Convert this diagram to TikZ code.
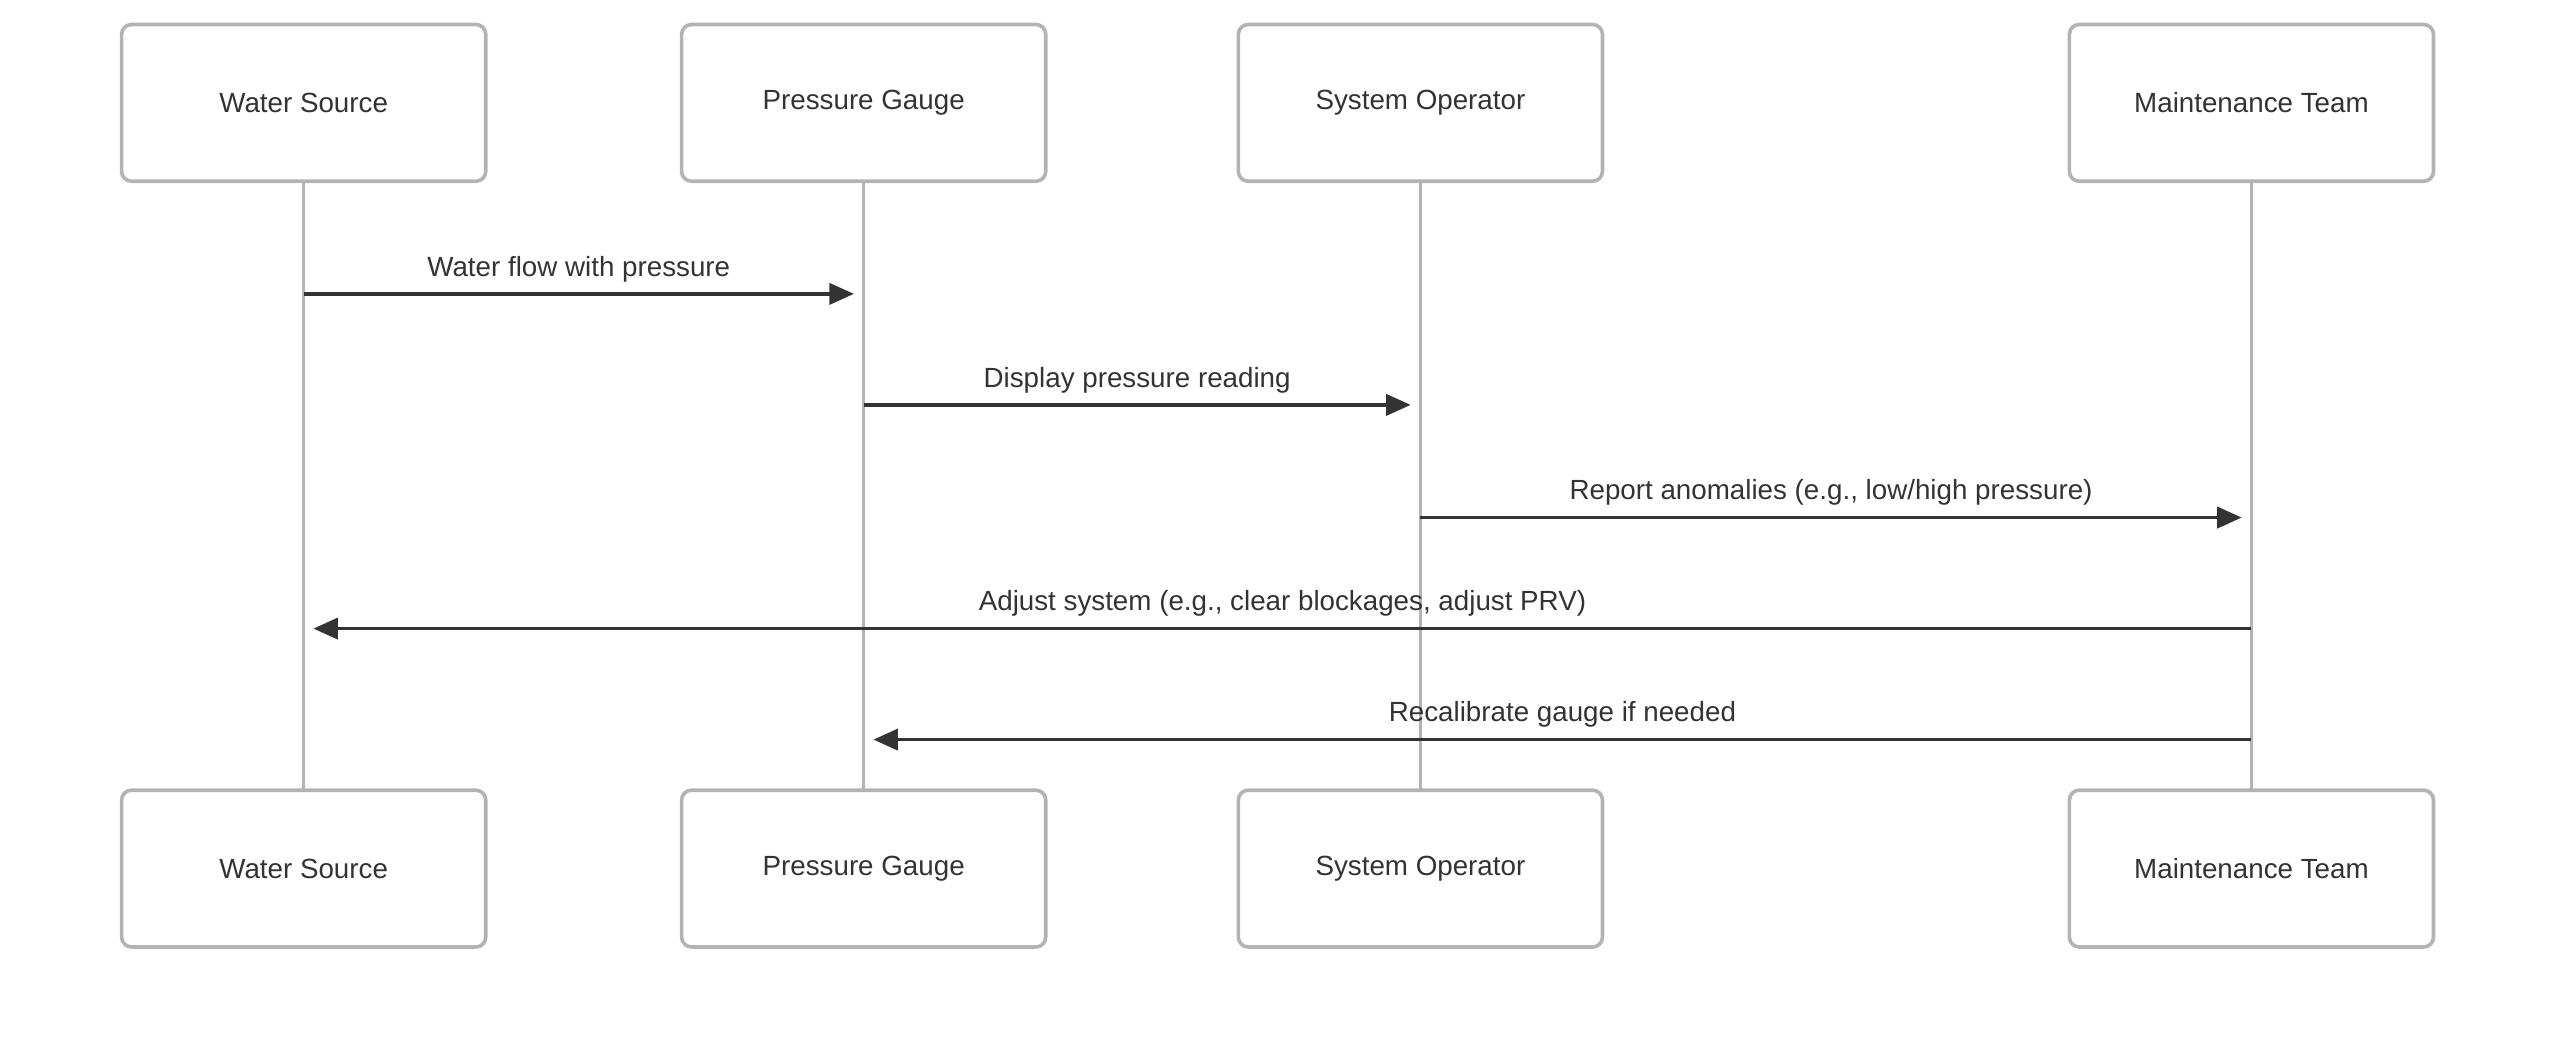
\documentclass[tikz,border=0pt]{standalone}
\usepackage{fontspec}
\setmainfont{Liberation Sans}
\usetikzlibrary{arrows.meta}
\begin{document}
\begin{tikzpicture}[x=1pt,y=-1pt,
 actor/.style={draw=boxgray,line width=2.2pt,rounded corners=6pt,minimum width=223pt,minimum height=96pt,fill=white,text=txt,font=\fontsize{17}{20}\selectfont},
 life/.style={draw=boxgray,line width=2pt},
 msg/.style={draw=txt,line width=2pt,-{Triangle[length=15pt,width=13pt]}},
 lbl/.style={text=txt,font=\fontsize{17}{20}\selectfont,above=3pt}]
\definecolor{boxgray}{HTML}{B3B3B3}
\definecolor{txt}{HTML}{333333}
\useasboundingbox (0,0) rectangle (1568,643);
\foreach \n/\x/\t in {ws/186/Water Source,pg/529/Pressure Gauge,so/870/System Operator,mt/1379/Maintenance Team}{
 \draw[life] (\x,111) -- (\x,484);
 \node[actor] (\n t) at (\x,63) {\t};
 \node[actor] (\n b) at (\x,532) {\t};
}
\coordinate (a1s) at (186,180); \coordinate (a1e) at (523,180);
\coordinate (a2s) at (529,248); \coordinate (a2e) at (864,248);
\coordinate (a3s) at (870,317); \coordinate (a3e) at (1373,317);
\coordinate (a4s) at (1379,385); \coordinate (a4e) at (192,385);
\coordinate (a5s) at (1379,453); \coordinate (a5e) at (535,453);
\draw[msg] (a1s) -- node[lbl]{Water flow with pressure} (a1e);
\draw[msg] (a2s) -- node[lbl]{Display pressure reading} (a2e);
\draw[msg] (a3s) -- node[lbl]{Report anomalies (e.g., low/high pressure)} (a3e);
\draw[msg] (a4s) -- node[lbl]{Adjust system (e.g., clear blockages, adjust PRV)} (a4e);
\draw[msg] (a5s) -- node[lbl]{Recalibrate gauge if needed} (a5e);
\end{tikzpicture}
\end{document}
